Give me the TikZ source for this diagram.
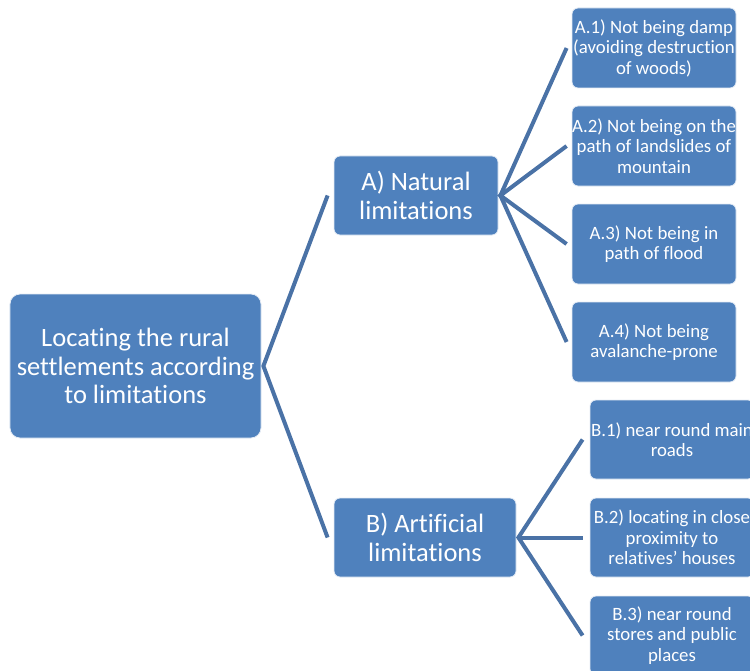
\documentclass[tikz,border=0pt]{standalone}
\usepackage{fontspec}
\setmainfont{Carlito}[Ligatures=NoCommon]
\definecolor{boxblue}{HTML}{4F81BD}
\definecolor{linkblue}{HTML}{4A72A6}
\begin{document}
\begin{tikzpicture}[x=1bp,y=-1bp,
  box/.style={fill=boxblue,draw=white!85!boxblue,line width=0.8bp,text=white,align=center,inner sep=0pt},
  bigbox/.style={box,rounded corners=10bp,minimum width=251bp,minimum height=144bp,font=\fontsize{26.5bp}{28.5bp}\selectfont},
  midbox/.style={box,rounded corners=6bp,minimum height=79bp,font=\fontsize{26.5bp}{29.5bp}\selectfont},
  leaf/.style={box,rounded corners=6bp,minimum width=164bp,minimum height=80bp,font=\fontsize{18.8bp}{20.5bp}\selectfont},
  link/.style={draw=linkblue,line width=4bp}]
\useasboundingbox (0,0) rectangle (750,671);
\clip (0,0) rectangle (750,671);
\node[bigbox] (root) at (135.5,366) {Locating the rural\\settlements according\\to limitations};
\node[midbox,minimum width=164bp] (A) at (416,195.5) {A) Natural\\limitations};
\node[midbox,minimum width=182bp] (B) at (425,537.5) {B) Artificial\\limitations};
\node[leaf] (A1) at (654,48) {A.1) Not being damp\\(avoiding destruction\\of woods)};
\node[leaf] (A2) at (654,146) {A.2) Not being on the\\path of landslides of\\mountain};
\node[leaf] (A3) at (654,244) {A.3) Not being in\\path of flood};
\node[leaf] (A4) at (654,342) {A.4) Not being\\avalanche-prone};
\node[leaf,minimum height=79bp] (B1) at (672,439.5) {B.1) near round main\\roads};
\node[leaf,minimum height=79bp] (B2) at (672,537.5) {B.2) locating in close\\proximity to\\relatives’ houses};
\node[leaf,minimum height=79bp] (B3) at (672,635.5) {B.3) near round\\stores and public\\places};
\draw[link] ([xshift=-6bp]A.west) -- ([xshift=2bp]root.east) -- ([xshift=-6bp]B.west);
\draw[link] ([xshift=-5bp]A1.west) -- ([xshift=2bp]A.east) -- ([xshift=-5bp]A4.west);
\draw[link] ([xshift=-5bp]A2.west) -- ([xshift=2bp]A.east) -- ([xshift=-5bp]A3.west);
\draw[link] ([xshift=-7bp]B1.west) -- ([xshift=2bp]B.east) -- ([xshift=-7bp]B3.west);
\draw[link] ([xshift=2bp]B.east) -- ([xshift=-7bp]B2.west);
\end{tikzpicture}
\end{document}
